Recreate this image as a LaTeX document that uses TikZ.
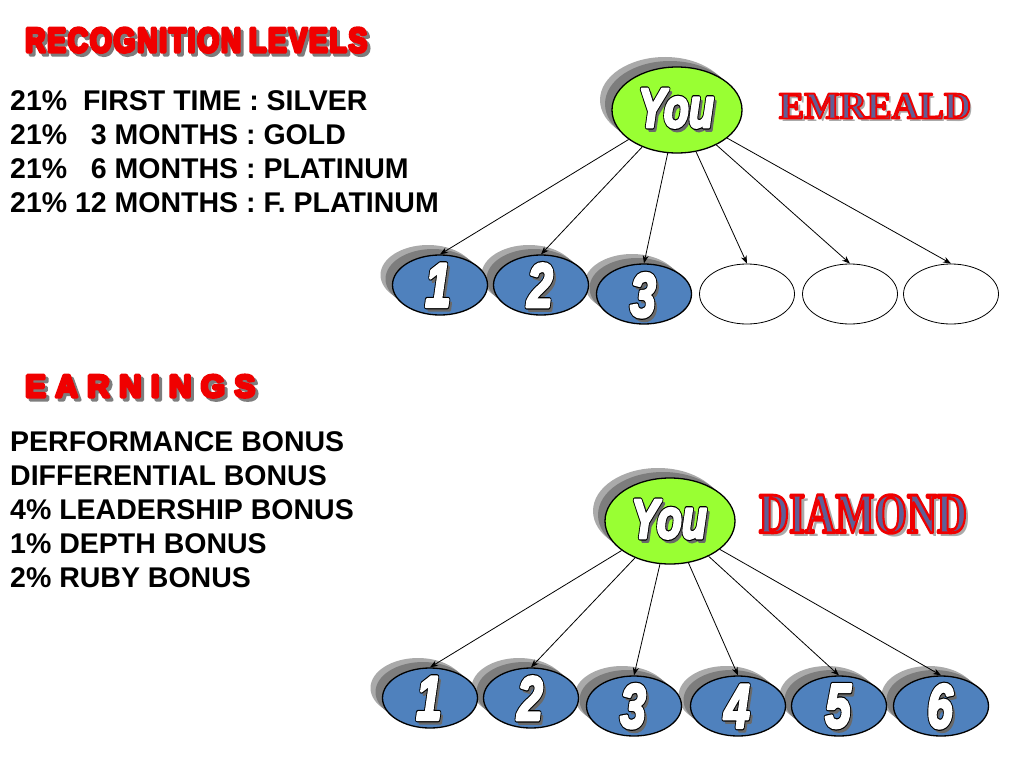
\documentclass[tikz,border=0pt]{standalone}
\usepackage{fontspec}
\setmainfont{Liberation Sans}
\newfontfamily\serifb{Liberation Serif}
\usepackage{graphicx}
\usetikzlibrary{shapes.geometric,arrows.meta,calc}
\definecolor{yougreen}{RGB}{153,255,51}
\definecolor{nodeblue}{RGB}{79,129,189}
\definecolor{titlered}{RGB}{240,0,0}
\definecolor{slate}{RGB}{95,95,150}
\definecolor{shadowdark}{RGB}{105,105,105}
\definecolor{shadowlight}{RGB}{170,170,170}
\definecolor{shadowmid}{RGB}{125,125,125}
% outlined text: #1 = stroke colour as PDF rgb triple, #2 = stroke width, #3 = text
\newcommand\outl[3]{\special{pdf:literal direct #1 RG #2 w 1 j 2 Tr}#3\special{pdf:literal direct 0 Tr}}
\newcommand\numlabel[1]{\scalebox{0.74}[1]{%
  \rlap{\kern3.5pt\raisebox{-3.5pt}{\color{shadowdark}\outl{0.41 0.41 0.41}{3.0}{#1}}}%
  \rlap{\color{black}\outl{0 0 0}{5.4}{#1}}%
  {\color{white}\outl{1 1 1}{3.0}{#1}}}}
\def\titleredrgb{0.94 0 0}
\def\shadowmidrgb{0.49 0.49 0.49}
\newcommand\bigtitle[4]{\resizebox{#2}{#3}{\bfseries\color{#4}\outl{\csname #4rgb\endcsname}{1.0}{#1}}}
\newcommand\gemtitle[3]{\resizebox{#2}{#3}{\serifb\bfseries\color{slate}\outl{0.94 0 0}{0.5}{#1}}}
\newcommand\gemshadow[3]{\resizebox{#2}{#3}{\serifb\bfseries\color{shadowlight}#1}}
\tikzset{
  listtext/.style={anchor=base west, font=\fontsize{28.5}{28.5}\selectfont\bfseries, inner sep=0},
  youbox/.style={ellipse, draw=black, line width=1.3pt, fill=yougreen, minimum width=130pt, minimum height=86pt, inner sep=0},
  numbox/.style={ellipse, draw=black, line width=1.3pt, fill=nodeblue, minimum width=95pt, minimum height=60pt, inner sep=0},
  emptybox/.style={ellipse, draw=black, line width=0.8pt, fill=white, minimum width=95pt, minimum height=60pt, inner sep=0},
  numtext/.style={inner sep=0, font=\fontsize{62}{62}\selectfont\bfseries\itshape},
  youtext/.style={inner sep=0, font=\fontsize{55}{55}\selectfont\bfseries\itshape},
  link/.style={-{Stealth[length=8pt,width=6pt]}, line width=0.8pt},
}
\begin{document}
\begin{tikzpicture}[x=1pt,y=-1pt]
\useasboundingbox[fill=white] (0,0) rectangle (1024,768);

% ---------- titles ----------
\node[anchor=base west, inner sep=0] (rts) at (28,55) {\bigtitle{R\kern.06em E\kern.06em C\kern.06em O\kern.06em G\kern.06em N\kern.06em I\kern.06em T\kern.06em I\kern.06em O\kern.06em N\ L\kern.06em E\kern.06em V\kern.06em E\kern.06em L\kern.06em S}{342pt}{24pt}{shadowmid}};
\node[anchor=base west, inner sep=0] (rt) at (25,52) {\bigtitle{R\kern.06em E\kern.06em C\kern.06em O\kern.06em G\kern.06em N\kern.06em I\kern.06em T\kern.06em I\kern.06em O\kern.06em N\ L\kern.06em E\kern.06em V\kern.06em E\kern.06em L\kern.06em S}{342pt}{24pt}{titlered}};
\node[anchor=base west, inner sep=0] (ets) at (28,400) {\bigtitle{E\kern.3em A\kern.3em R\kern.3em N\kern.3em I\kern.3em N\kern.3em G\kern.3em S}{230pt}{22pt}{shadowmid}};
\node[anchor=base west, inner sep=0] (et) at (25,397) {\bigtitle{E\kern.3em A\kern.3em R\kern.3em N\kern.3em I\kern.3em N\kern.3em G\kern.3em S}{230pt}{22pt}{titlered}};

% ---------- lists ----------
\node[listtext] (l1) at (10,110) {21\%\ \ FIRST TIME : SILVER};
\node[listtext] (l2) at (10,144) {21\%\ \ \ 3 MONTHS : GOLD};
\node[listtext] (l3) at (10,178) {21\%\ \ \ 6 MONTHS : PLATINUM};
\node[listtext] (l4) at (10,212) {21\% 12 MONTHS : F. PLATINUM};

\node[listtext] (e1) at (10,451) {PERFORMANCE BONUS};
\node[listtext] (e2) at (10,485) {DIFFERENTIAL BONUS};
\node[listtext] (e3) at (10,519) {4\% LEADERSHIP BONUS};
\node[listtext] (e4) at (10,553) {1\% DEPTH BONUS};
\node[listtext] (e5) at (10,587) {2\% RUBY BONUS};

% ---------- gem titles ----------
\node[inner sep=0] (ems) at (878,109) {\gemshadow{EMREALD}{192pt}{25pt}};
\node[inner sep=0] (em) at (875,106) {\gemtitle{EMREALD}{192pt}{25pt}};
\node[inner sep=0] (dms) at (867,518) {\gemshadow{DIAMOND}{208pt}{38pt}};
\node[inner sep=0] (dm) at (863,514) {\gemtitle{DIAMOND}{208pt}{38pt}};

% ---------- shadows ----------
\foreach \x/\y in {440/285, 541/285, 644/294, 430/698, 531/698, 634/706, 738/706, 839/706, 941/706}{
  \fill[shadowlight] ($(\x,\y)+(-12,-10)$) ellipse [x radius=47.5pt, y radius=30pt];
  \fill[shadowmid] ($(\x,\y)+(-7,-6)$) ellipse [x radius=47.5pt, y radius=30pt];
}
\foreach \x/\y in {677/110, 670/521}{
  \fill[shadowlight] ($(\x,\y)+(-12,-10)$) ellipse [x radius=65pt, y radius=43pt];
  \fill[shadowmid] ($(\x,\y)+(-7,-6)$) ellipse [x radius=65pt, y radius=43pt];
}

% ---------- top tree ----------
\node[youbox] (you1) at (677,110) {};
\node[youtext] (youl1) at (676,110) {\numlabel{You}};
\node[numbox] (a1) at (440,285) {};
\node[numbox] (a2) at (541,285) {};
\node[numbox] (a3) at (644,294) {};
\node[emptybox] (a4) at (747,294) {};
\node[emptybox] (a5) at (850,294) {};
\node[emptybox] (a6) at (951,294) {};
\node[numtext] (n1) at (438,287) {\numlabel{1}};
\node[numtext] (n2) at (540,287) {\numlabel{2}};
\node[numtext] (n3) at (643,297) {\numlabel{3}};
\foreach \i in {1,...,6} \draw[link] (you1) -- (a\i.north);

% ---------- bottom tree ----------
\node[youbox] (you2) at (670,521) {};
\node[youtext] (youl2) at (669,521) {\numlabel{You}};
\node[numbox] (b1) at (430,698) {};
\node[numbox] (b2) at (531,698) {};
\node[numbox] (b3) at (634,706) {};
\node[numbox] (b4) at (738,706) {};
\node[numbox] (b5) at (839,706) {};
\node[numbox] (b6) at (941,706) {};
\node[numtext] (m1) at (429,700) {\numlabel{1}};
\node[numtext] (m2) at (530,700) {\numlabel{2}};
\node[numtext] (m3) at (633,708) {\numlabel{3}};
\node[numtext] (m4) at (737,708) {\numlabel{4}};
\node[numtext] (m5) at (838,708) {\numlabel{5}};
\node[numtext] (m6) at (940,708) {\numlabel{6}};
\foreach \i in {1,...,6} \draw[link] (you2) -- (b\i.north);
\end{tikzpicture}
\end{document}
